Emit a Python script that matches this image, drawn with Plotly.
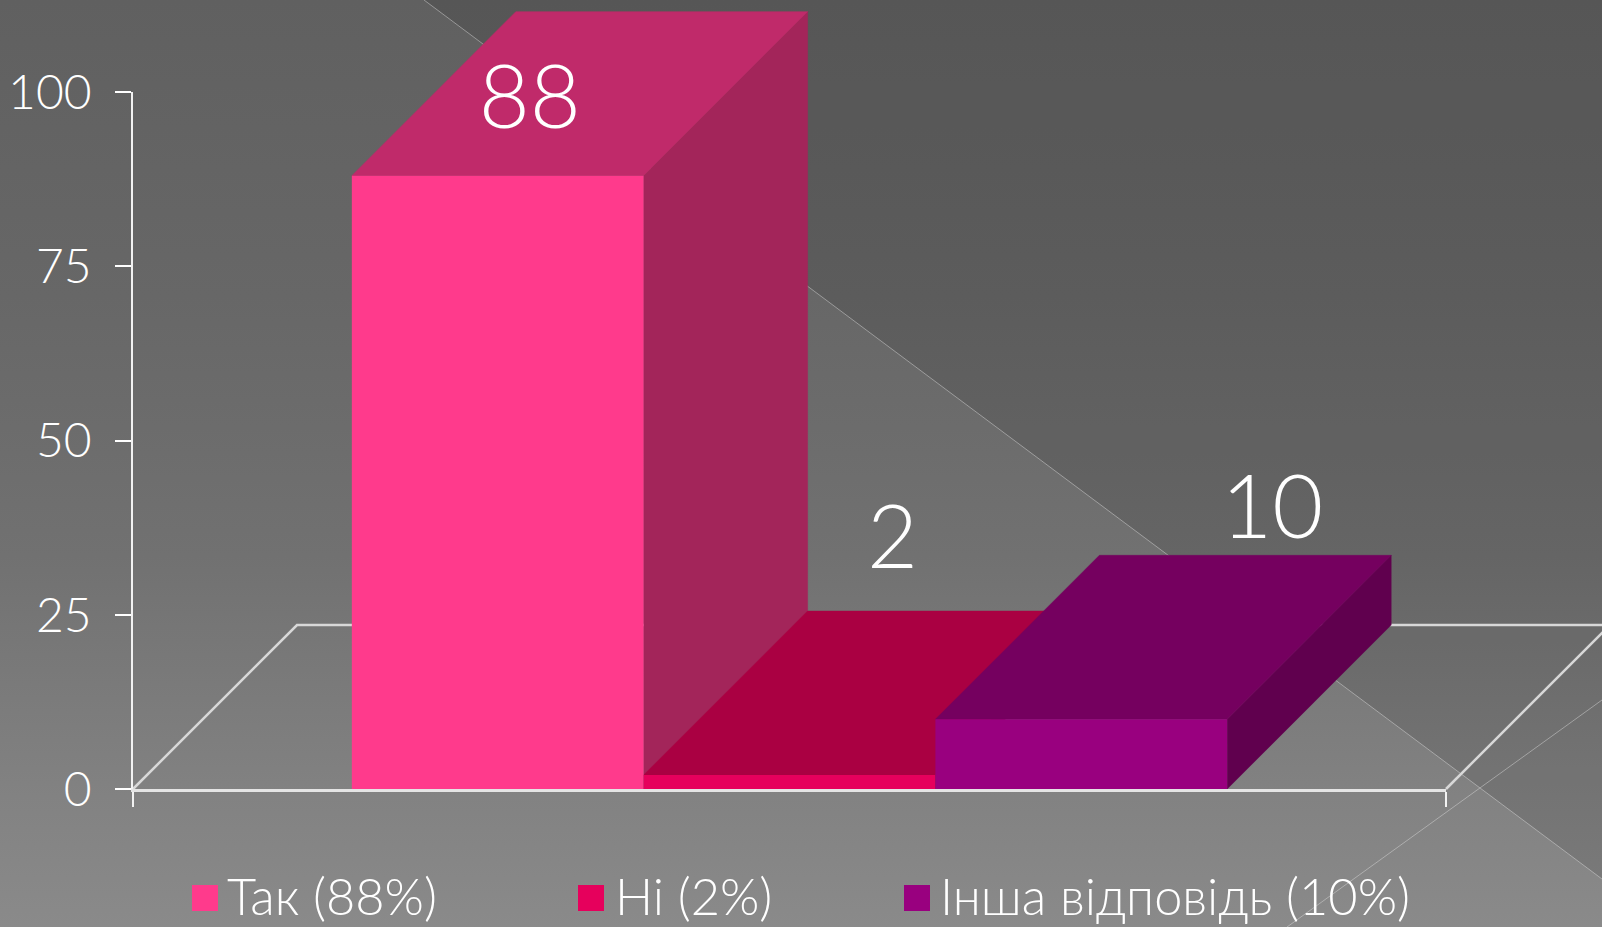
import plotly.graph_objects as go

# ---- data ----
categories = ["Так", "Ні", "Інша відповідь"]
values = [88, 2, 10]
y_ticks = [0, 25, 50, 75, 100]

# ---- styling ----
W, H = 1602, 927
X0, X1 = 133, 1446          # plot area in pixels
Y0, Y100 = 789, 92
DEPTH = 164                 # oblique depth, pixels
BAR_PX = (X1 - X0) / 4.5
front = ["#FF3A8C", "#E6005C", "#99007F"]
top = ["#C02A6A", "#AA0042", "#75005F"]
side = ["#A3255A", "#8A0036", "#60004E"]
label_dx = [32, 103, 191]
label_dy = [-70, -229, -203]
legend_swatch_x = [205, 591, 917]
legend_text_x = [225, 613, 938]
FONT = "Lato"
LW = 300
TXT = "#FFFFFF"
# the page axis runs downwards, so stop 0 is the bottom of the page
bg_scale = [[0, "#8a8a8a"], [0.14, "#828282"], [0.4, "#717171"], [0.68, "#676767"], [1, "#606060"]]

px_per_val = (Y0 - Y100) / 100
to_x = lambda px: (px - X0) / BAR_PX
to_y = lambda py: (Y0 - py) / px_per_val
dx, dy = DEPTH / BAR_PX, DEPTH / px_per_val

fig = go.Figure()

# ---- background, pixel axes ----
fig.add_trace(go.Scatter(
    x=[0, W, W, 0, 0], y=[0, 0, H, H, 0], mode="lines", fill="toself",
    fillgradient=dict(type="vertical", colorscale=bg_scale),
    line=dict(width=0), hoverinfo="skip", showlegend=False, xaxis="x", yaxis="y"))
fig.add_trace(go.Scatter(
    x=[424, W, W, 424], y=[0, 879, 0, 0], mode="lines", fill="toself",
    fillcolor="rgba(0,0,0,0.10)", line=dict(width=0),
    hoverinfo="skip", showlegend=False, xaxis="x", yaxis="y"))
for xs, ys in [([424, W], [0, 879]), ([W, 1287], [700, 927])]:
    fig.add_trace(go.Scatter(
        x=xs, y=ys, mode="lines", line=dict(color="rgba(225,225,225,0.45)", width=1),
        hoverinfo="skip", showlegend=False, xaxis="x", yaxis="y"))

# ---- floor and oblique faces, value axes over the full page ----
fx = [to_x(0), to_x(W)]
fy = [to_y(H), to_y(0)]
fig.add_trace(go.Scatter(
    x=[0, dx, to_x(W) + 1], y=[0, dy, dy], mode="lines",
    line=dict(color="#D8D8D8", width=2.5), hoverinfo="skip", showlegend=False,
    xaxis="x2", yaxis="y2"))
fig.add_trace(go.Scatter(
    x=[4.5, 4.5 + dx], y=[0, dy], mode="lines",
    line=dict(color="#D8D8D8", width=2.5), hoverinfo="skip", showlegend=False,
    xaxis="x2", yaxis="y2"))

for i, v in enumerate(values):
    xl = 0.75 + i
    xr = xl + 1
    fig.add_trace(go.Scatter(
        x=[xr, xr + dx, xr + dx, xr, xr], y=[0, dy, v + dy, v, 0],
        mode="lines", fill="toself", fillcolor=side[i], line=dict(color=side[i], width=0.5),
        hoverinfo="skip", showlegend=False, xaxis="x2", yaxis="y2"))
    fig.add_trace(go.Scatter(
        x=[xl, xl + dx, xr + dx, xr, xl], y=[v, v + dy, v + dy, v, v],
        mode="lines", fill="toself", fillcolor=top[i], line=dict(color=top[i], width=0.5),
        hoverinfo="skip", showlegend=False, xaxis="x2", yaxis="y2"))

# ---- value labels ----
fig.add_trace(go.Scatter(
    x=[0.75 + i + 0.5 + label_dx[i] / BAR_PX for i in range(3)],
    y=[values[i] - label_dy[i] / px_per_val for i in range(3)],
    mode="text", text=[str(v) for v in values], textposition="middle center",
    textfont=dict(family=FONT, size=88, color=TXT, weight=LW),
    hoverinfo="skip", showlegend=False, xaxis="x2", yaxis="y2"))

# ---- legend swatches ----
LEG_Y = to_y(898)
fig.add_trace(go.Scatter(
    x=[to_x(p) for p in legend_swatch_x], y=[LEG_Y] * 3, mode="markers",
    marker=dict(symbol="square", size=26, color=front, line=dict(width=0)),
    hoverinfo="skip", showlegend=False, xaxis="x2", yaxis="y2"))

# ---- front faces on the real chart axes ----
for i, v in enumerate(values):
    fig.add_trace(go.Bar(
        x=["Відповіді"], y=[v], name=categories[i], marker=dict(color=front[i], line=dict(width=0)),
        showlegend=False, xaxis="x3", yaxis="y3"))

# ---- legend text ----
annotations = [dict(
    x=legend_text_x[i] / W, y=1 - 895 / H, xref="paper", yref="paper",
    xanchor="left", yanchor="middle", showarrow=False,
    text=f"{categories[i]} ({values[i]}%)",
    font=dict(family=FONT, size=50.5, color=TXT, weight=LW)) for i in range(3)]

hidden = dict(visible=False, fixedrange=True)
fig.update_layout(
    width=W, height=H, margin=dict(l=0, r=0, t=0, b=0, autoexpand=False),
    paper_bgcolor="#707070", plot_bgcolor="rgba(0,0,0,0)",
    barmode="group", bargap=1 / 3, bargroupgap=0, showlegend=False,
    annotations=annotations,
    xaxis=dict(domain=[0, 1], range=[0, W], **hidden),
    yaxis=dict(domain=[0, 1], range=[H, 0], **hidden),
    xaxis2=dict(domain=[0, 1], range=fx, anchor="y2", **hidden),
    yaxis2=dict(domain=[0, 1], range=fy, anchor="x2", **hidden),
    xaxis3=dict(domain=[X0 / W, X1 / W], anchor="y3", type="category", range=[-0.5, 0.5],
                showgrid=False, zeroline=False, showline=True, linecolor="#E4E4E4", linewidth=2.5,
                ticks="outside", ticklen=15, tickcolor="#F2F2F2", tickwidth=1.5,
                tickson="boundaries", showticklabels=False),
    yaxis3=dict(domain=[1 - Y0 / H, 1 - Y100 / H], anchor="x3", range=[0, 100],
                tickvals=y_ticks, showgrid=False, zeroline=False, showline=True,
                linecolor="#F2F2F2", linewidth=1.5, ticks="outside", ticklen=16,
                tickcolor="#FFFFFF", tickwidth=1.5, ticklabelstandoff=14,
                tickfont=dict(family=FONT, size=48, color=TXT, weight=LW)),
)
fig.write_html("out.html", config=dict(displayModeBar=False),
               post_script="document.body.style.margin='0';document.body.style.overflow='hidden';")
